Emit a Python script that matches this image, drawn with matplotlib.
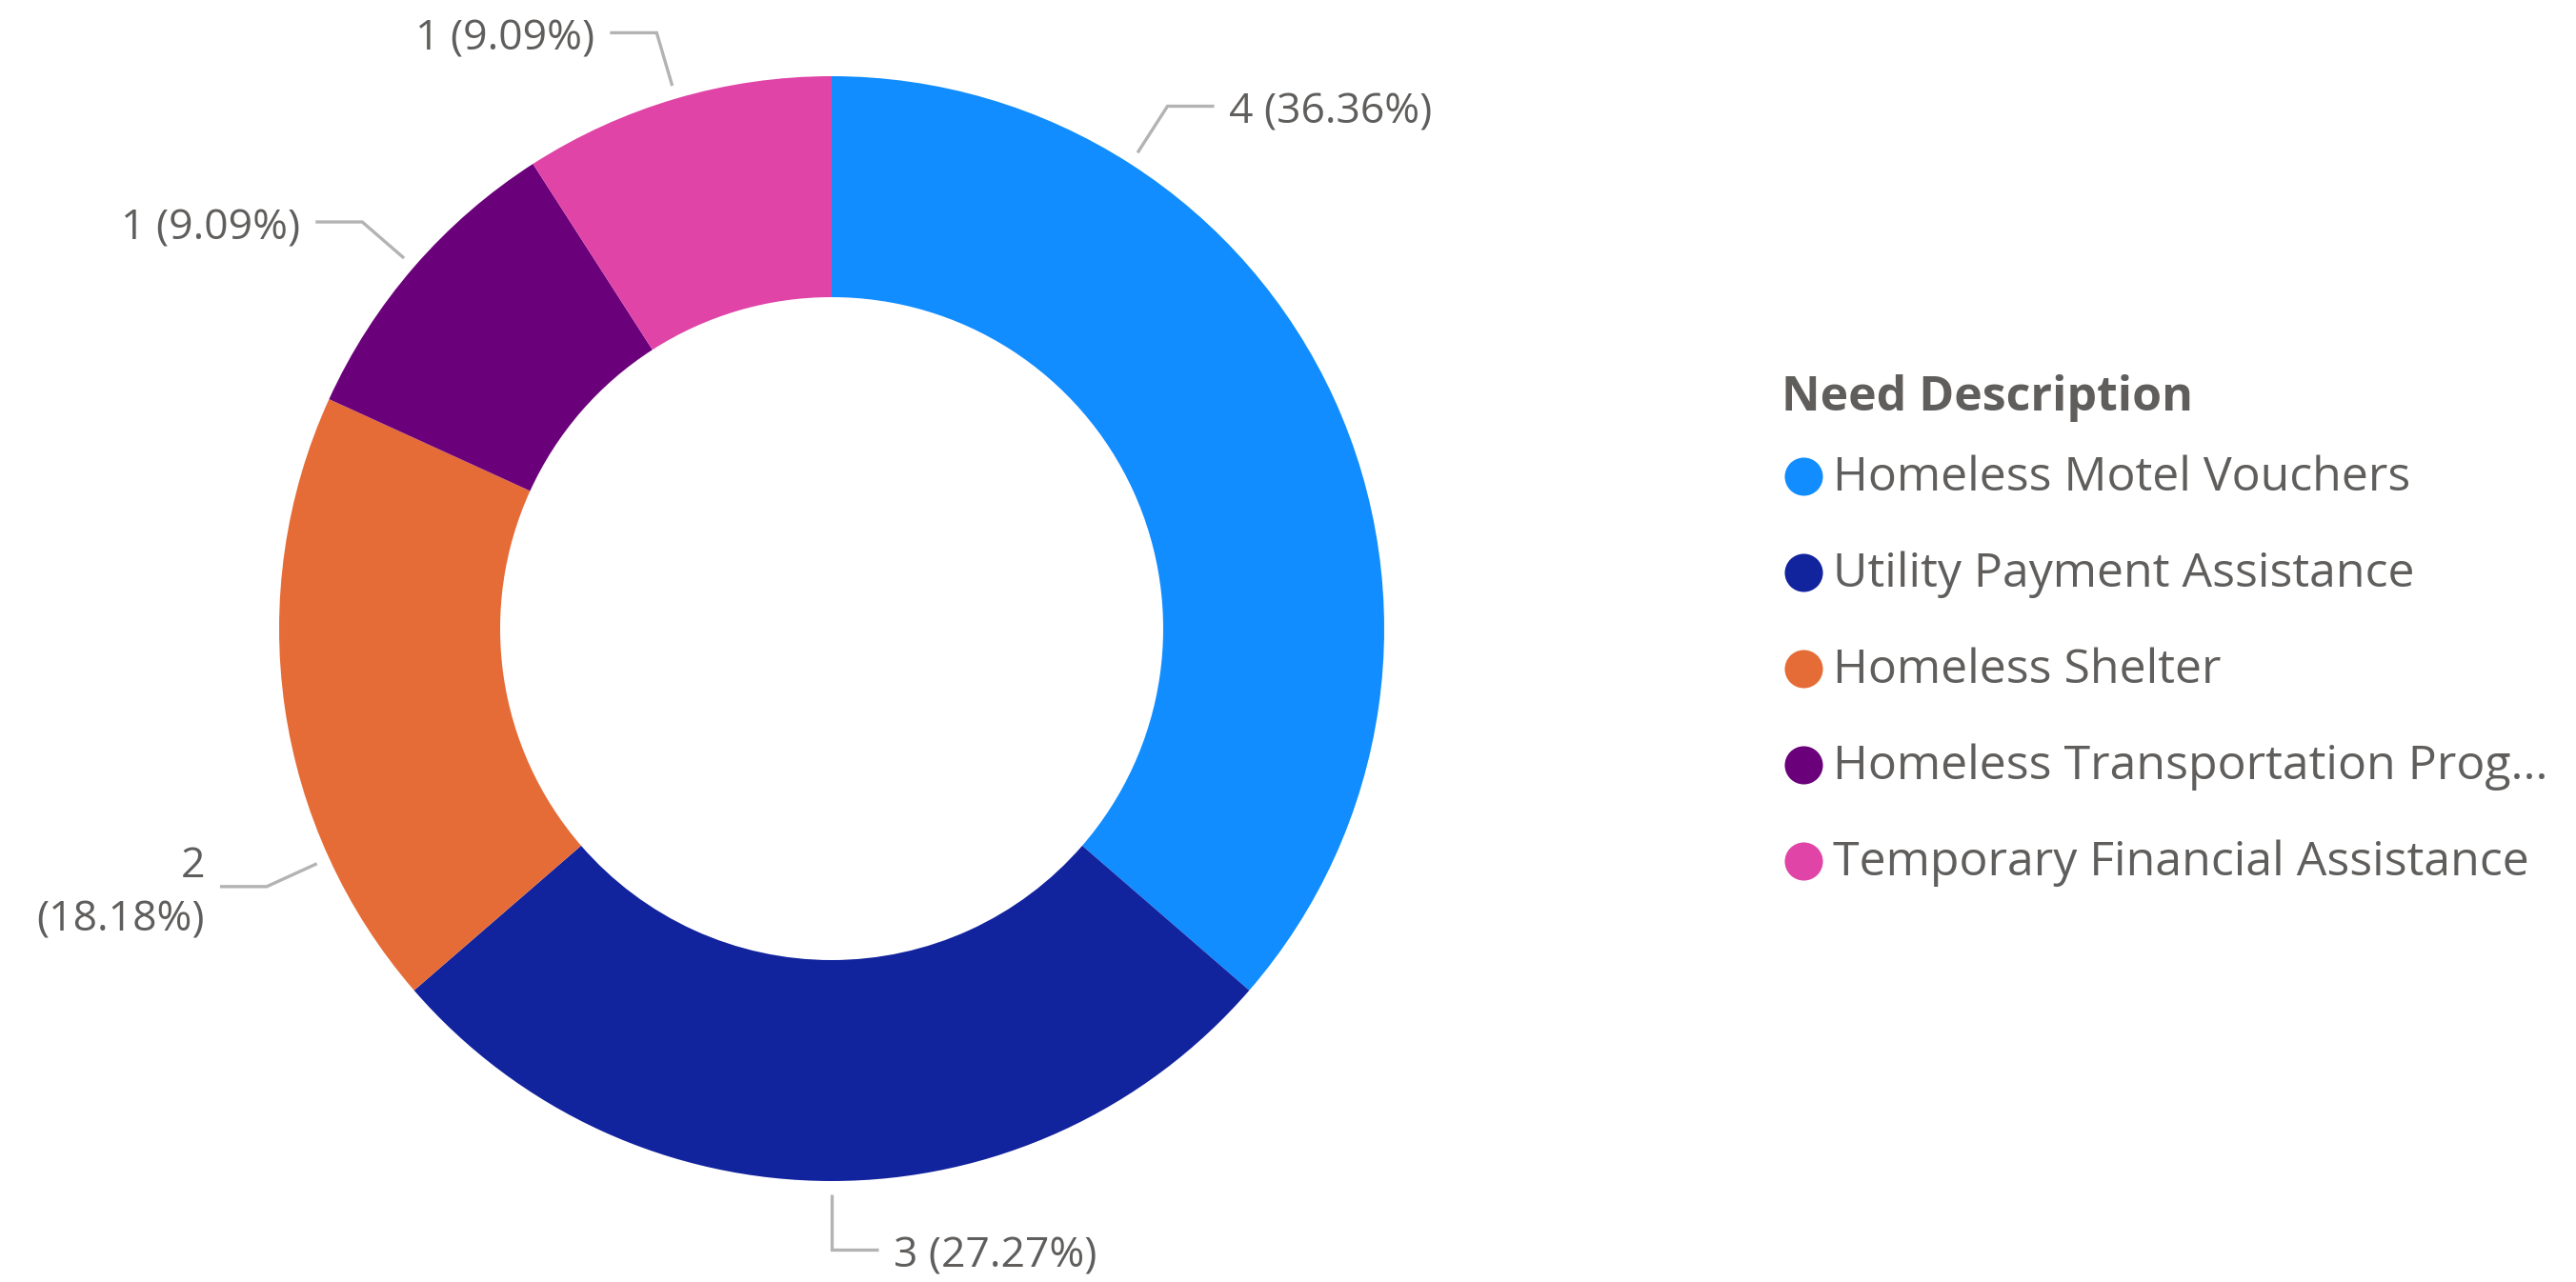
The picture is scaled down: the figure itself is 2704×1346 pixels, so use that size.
import numpy as np
import matplotlib
matplotlib.use("Agg")
import matplotlib.pyplot as plt

plt.rcParams['font.family'] = ['Open Sans', 'DejaVu Sans']

# data
categories = ["Homeless Motel Vouchers", "Utility Payment Assistance",
              "Homeless Shelter", "Homeless Transportation Prog...",
              "Temporary Financial Assistance"]
counts = [4, 3, 2, 1, 1]
colors = ["#118DFF", "#12239E", "#E66C37", "#6B007B", "#E044A7"]
legend_title = "Need Description"

# where along each slice the leader line starts (fraction of the slice)
anchor_frac = [0.25, 0.5, 0.25, 0.5, 0.5]
wrap_label = [False, False, True, False, False]

W, H = 2704, 1346
TEXT = "#605E5C"
LEADER = "#B3B3B3"

fig = plt.figure(figsize=(W / 100, H / 100), dpi=100)
ax = fig.add_axes([0, 0, 1, 1])
ax.set_xlim(0, W)
ax.set_ylim(0, H)
ax.set_aspect('equal')
ax.axis('off')

cx, cy, R = 873, H - 660, 580
ax.pie(counts, colors=colors, startangle=90, counterclock=False,
       radius=R, center=(cx, cy),
       wedgeprops=dict(width=R * 0.4, linewidth=0))
ax.set_xlim(0, W)
ax.set_ylim(0, H)

# data labels with elbow leader lines
total = sum(counts)
shares = np.array(counts) / total
starts = np.concatenate([[0], np.cumsum(shares)[:-1]])
for v, s0, sh, fr, wrap in zip(counts, starts, shares, anchor_frac, wrap_label):
    th = np.deg2rad(360 * (s0 + fr * sh))
    r0, r1 = R + 14, R + 72
    x0, y0 = cx + r0 * np.sin(th), cy + r0 * np.cos(th)
    x1, y1 = cx + r1 * np.sin(th), cy + r1 * np.cos(th)
    side = 1 if np.sin(th) >= -1e-9 else -1
    x2 = x1 + side * 49
    ax.plot([x0, x1, x2], [y0, y1, y1], color=LEADER, lw=2.4,
            solid_capstyle='butt', solid_joinstyle='miter')
    sep = "\n" if wrap else " "
    label = f"{v}{sep}({sh:.2%})"
    ax.text(x2 + side * 16, y1 - 7, label, ha='left' if side > 0 else 'right',
            va='center', fontsize=32, color=TEXT, linespacing=1.35,
            multialignment='right')

# legend
lx, ly0, step = 1893, H - 500, 101
ax.text(1870, H - 418, legend_title, fontsize=36, fontweight='bold',
        color=TEXT, ha='left', va='center')
for i, (name, c) in enumerate(zip(categories, colors)):
    y = ly0 - i * step
    ax.scatter([lx], [y], s=40 ** 2 * 0.52, color=c, linewidths=0)
    ax.text(1924, y - 2, name, fontsize=36, color=TEXT, ha='left', va='center')

fig.savefig("out.png", dpi=100, facecolor='white')
